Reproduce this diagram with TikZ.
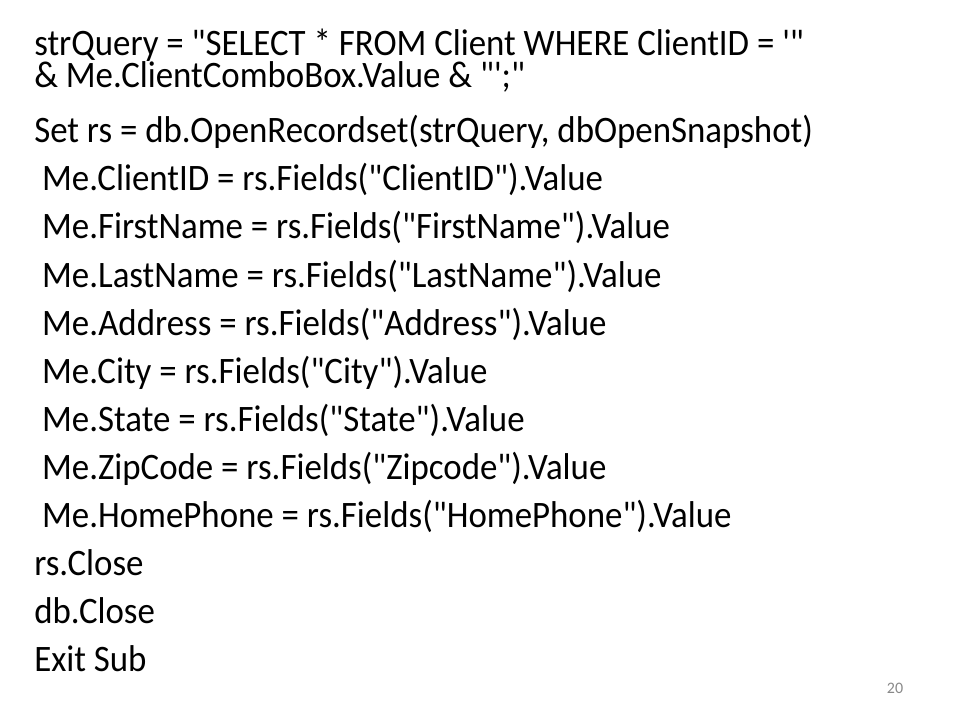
\documentclass[tikz,border=0pt]{standalone}
\usepackage{fontspec}
\setmainfont{Carlito}[Ligatures=TeXOff]
\definecolor{pagenum}{HTML}{898989}
\newcommand{\squeeze}[1]{\scalebox{0.934}[1]{#1}}
\begin{document}
\begin{tikzpicture}[x=0.75pt,y=-0.75pt,
  codeline/.style={anchor=base west,inner sep=0pt,font=\fontsize{28}{24}\selectfont,text=black},
  pagenumber/.style={anchor=base,inner sep=0pt,font=\fontsize{12}{14}\selectfont,text=pagenum}]
\fill[white] (0,0) rectangle (960,720);
\useasboundingbox (0,0) rectangle (960,720);
\node[codeline,align=left] (l1) at (34,88) {\squeeze{strQuery = "SELECT * FROM Client WHERE ClientID = '"}\\\squeeze{\& Me.ClientComboBox.Value \& "';"}};
\node[codeline] (l3) at (34,143) {\squeeze{Set rs = db.OpenRecordset(strQuery, dbOpenSnapshot)}};
\node[codeline] (l4) at (34,191) {\squeeze{\ Me.ClientID = rs.Fields("ClientID").Value}};
\node[codeline] (l5) at (34,239) {\squeeze{\ Me.FirstName = rs.Fields("FirstName").Value}};
\node[codeline] (l6) at (34,287) {\squeeze{\ Me.LastName = rs.Fields("LastName").Value}};
\node[codeline] (l7) at (34,335) {\squeeze{\ Me.Address = rs.Fields("Address").Value}};
\node[codeline] (l8) at (34,383) {\squeeze{\ Me.City = rs.Fields("City").Value}};
\node[codeline] (l9) at (34,431) {\squeeze{\ Me.State = rs.Fields("State").Value}};
\node[codeline] (l10) at (34,479) {\squeeze{\ Me.ZipCode = rs.Fields("Zipcode").Value}};
\node[codeline] (l11) at (34,527) {\squeeze{\ Me.HomePhone = rs.Fields("HomePhone").Value}};
\node[codeline] (l12) at (34,575) {\squeeze{rs.Close}};
\node[codeline] (l13) at (34,623) {\squeeze{db.Close}};
\node[codeline] (l14) at (34,671) {\squeeze{Exit Sub}};
\node[pagenumber] (pg) at (895,693) {20};
\end{tikzpicture}
\end{document}
